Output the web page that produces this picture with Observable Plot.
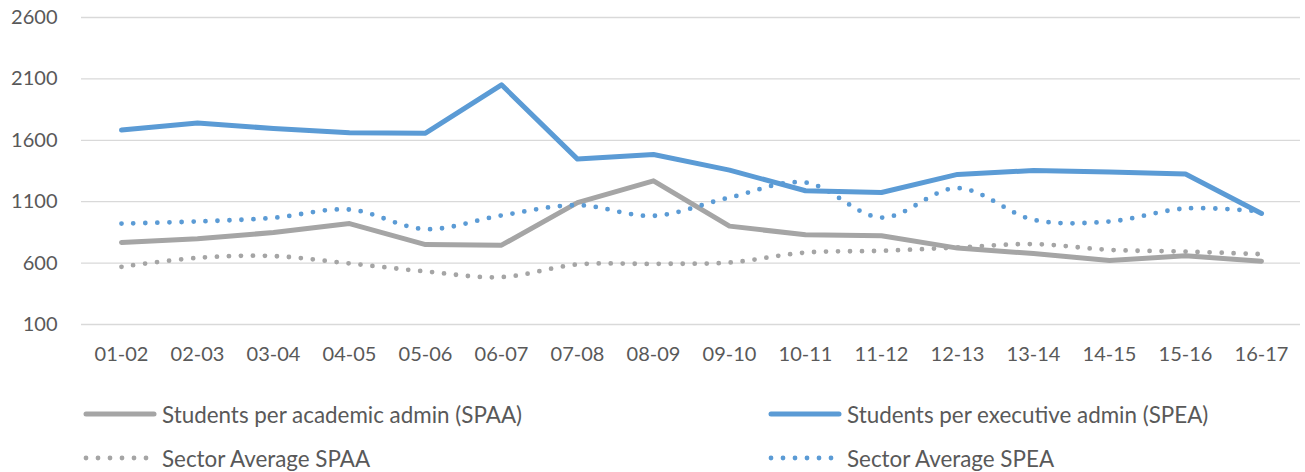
<!DOCTYPE html>
<html>
<head>
<meta charset="utf-8">
<script src="https://cdn.jsdelivr.net/npm/d3@7"></script>
<script src="https://cdn.jsdelivr.net/npm/@observablehq/plot@0.6"></script>
<style>
  html, body { margin: 0; padding: 0; background: #fff; }
  #wrap { position: relative; width: 1305px; height: 472px; font-family: Lato, "Open Sans", sans-serif; color: #595959; }
  .leg { position: absolute; display: flex; align-items: center; font-size: 22.4px; color: #595959; white-space: nowrap; }
  .leg svg { margin-right: 4px; }
</style>
</head>
<body>
<div id="wrap"></div>
<script>
const years = ["01-02","02-03","03-04","04-05","05-06","06-07","07-08","08-09","09-10","10-11","11-12","12-13","13-14","14-15","15-16","16-17"];
const spaa = [768, 798, 849, 922, 751, 746, 1093, 1270, 901, 830, 822, 722, 678, 621, 659, 616];
const spea = [1683, 1740, 1696, 1661, 1658, 2052, 1447, 1484, 1357, 1189, 1175, 1322, 1354, 1341, 1325, 1004];
const sectorSpaa = [570, 643, 657, 597, 532, 486, 589, 594, 605, 686, 700, 727, 755, 708, 694, 673];
const sectorSpea = [922, 939, 969, 1036, 877, 988, 1072, 985, 1134, 1256, 971, 1211, 953, 939, 1045, 1020];
const yTicks = [100, 600, 1100, 1600, 2100, 2600];
const seriesNames = ["Students per academic admin (SPAA)", "Students per executive admin (SPEA)", "Sector Average SPAA", "Sector Average SPEA"];

const GRAY = "#A5A5A5", BLUE = "#5B9BD5";
const rows = (vals) => years.map((y, i) => ({year: y, value: vals[i]}));

const chart = Plot.plot({
  width: 1305,
  height: 380,
  marginLeft: 81,
  marginRight: 5,
  marginTop: 17,
  marginBottom: 56,
  style: {fontFamily: "Lato, 'Open Sans', sans-serif", fontSize: "20px", color: "#595959", background: "#fff"},
  x: {type: "point", domain: years, padding: 0.5, label: null},
  y: {domain: [100, 2600], label: null},
  marks: [
    Plot.ruleY(yTicks, {stroke: "#D9D9D9", strokeWidth: 1.3}),
    Plot.axisX({tickSize: 0, tickPadding: 22, label: null, fill: "#595959"}),
    Plot.axisY({ticks: yTicks, tickFormat: d3.format("d"), tickSize: 0, tickPadding: 24, label: null, fill: "#595959"}),
    Plot.line(rows(spaa), {x: "year", y: "value", stroke: GRAY, strokeWidth: 5, strokeLinejoin: "round", strokeLinecap: "round"}),
    Plot.line(rows(spea), {x: "year", y: "value", stroke: BLUE, strokeWidth: 5, strokeLinejoin: "round", strokeLinecap: "round"}),
    Plot.line(rows(sectorSpaa), {x: "year", y: "value", stroke: GRAY, strokeWidth: 4.8, strokeDasharray: "0 12", strokeLinecap: "round", curve: "catmull-rom"}),
    Plot.line(rows(sectorSpea), {x: "year", y: "value", stroke: BLUE, strokeWidth: 4.8, strokeDasharray: "0 12", strokeLinecap: "round", curve: "catmull-rom"})
  ]
});

const wrap = document.getElementById("wrap");
wrap.appendChild(chart);

const legendItems = [
  {name: seriesNames[0], color: GRAY, dotted: false, left: 82, top: 414},
  {name: seriesNames[1], color: BLUE, dotted: false, left: 767, top: 414},
  {name: seriesNames[2], color: GRAY, dotted: true, left: 82, top: 458},
  {name: seriesNames[3], color: BLUE, dotted: true, left: 767, top: 458}
];
for (const it of legendItems) {
  const d = document.createElement("div");
  d.className = "leg";
  d.style.left = it.left + "px";
  d.style.top = (it.top - 15) + "px";
  d.style.height = "30px";
  const sw = it.dotted
    ? `<svg width="76" height="10"><line x1="4" y1="5" x2="72" y2="5" stroke="${it.color}" stroke-width="4.8" stroke-linecap="round" stroke-dasharray="0 12"/></svg>`
    : `<svg width="76" height="10"><line x1="4" y1="5" x2="72" y2="5" stroke="${it.color}" stroke-width="5" stroke-linecap="round"/></svg>`;
  d.innerHTML = sw + `<span>${it.name}</span>`;
  wrap.appendChild(d);
}
</script>
</body>
</html>
